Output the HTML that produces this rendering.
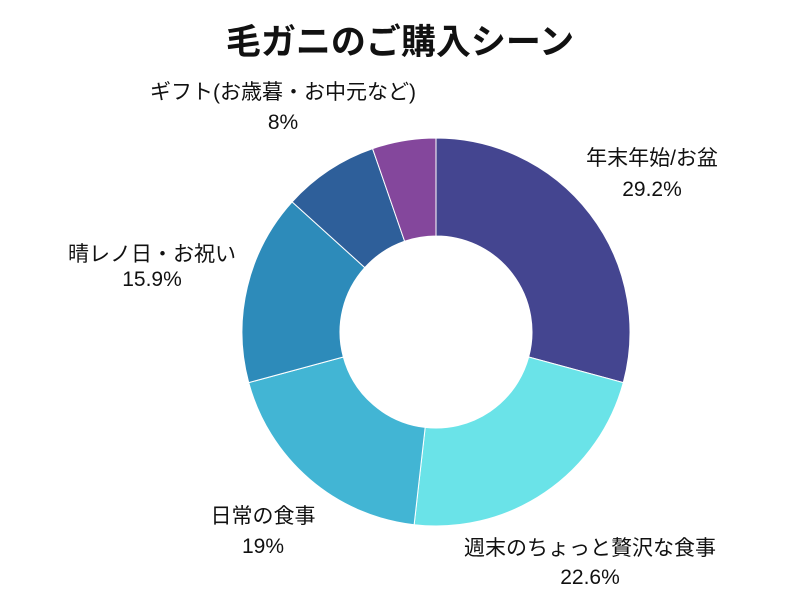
<!DOCTYPE html>
<html><head><meta charset="utf-8"><style>
html,body{margin:0;padding:0;background:#fff;}
svg text{font-family:"Liberation Sans","Noto Sans CJK JP",sans-serif;fill:#111;}
</style></head><body>
<svg id="s" width="800" height="600" viewBox="0 0 800 600" xmlns="http://www.w3.org/2000/svg">
<rect width="800" height="600" fill="#fff"/>
<text x="400" y="54" text-anchor="middle" font-size="35" font-weight="bold">毛ガニのご購入シーン</text>
<g id="p"></g>
<g font-size="21" text-anchor="middle">
<text x="652" y="165">年末年始/お盆</text><text x="652" y="196">29.2%</text>
<text x="590" y="555">週末のちょっと贅沢な食事</text><text x="590" y="584">22.6%</text>
<text x="263" y="523">日常の食事</text><text x="263" y="553">19%</text>
<text x="152" y="261">晴レノ日・お祝い</text><text x="152" y="286">15.9%</text>
<text x="283" y="99">ギフト(お歳暮・お中元など)</text><text x="283" y="129">8%</text>
</g>
</svg>
<script>
var cx=436,cy=332,R=194,r=96;
var d=[[29.2,"#444590"],[22.6,"#6ae3e8"],[19,"#42b5d4"],[15.9,"#2d8bba"],[8,"#2e5f9a"],[5.3,"#84479c"]];
var a=0,g=document.getElementById("p"),h="";
function pt(rad,ang){return [cx+rad*Math.sin(ang),cy-rad*Math.cos(ang)];}
d.forEach(function(s){
 var a0=a/100*2*Math.PI;a+=s[0];var a1=a/100*2*Math.PI;
 var l=(a1-a0)>Math.PI?1:0;
 var p1=pt(R,a0),p2=pt(R,a1),p3=pt(r,a1),p4=pt(r,a0);
 h+='<path d="M'+p1+' A'+R+' '+R+' 0 '+l+' 1 '+p2+' L'+p3+' A'+r+' '+r+' 0 '+l+' 0 '+p4+' Z" fill="'+s[1]+'" stroke="#fff" stroke-width="1"/>';
});
g.innerHTML=h;
</script>
</body></html>
